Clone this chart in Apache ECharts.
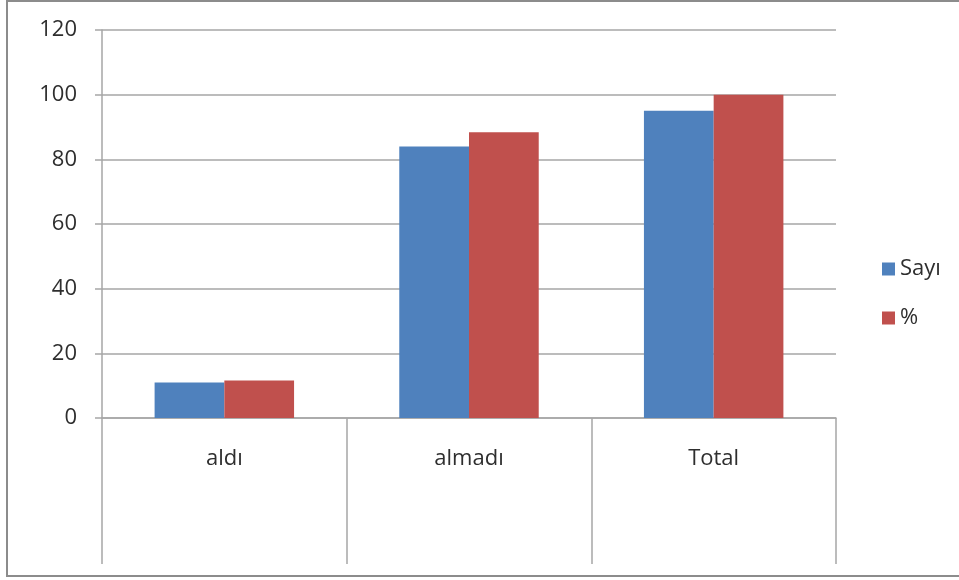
<!DOCTYPE html>
<html>
<head>
<meta charset="utf-8">
<script src="https://cdn.jsdelivr.net/npm/echarts@6/dist/echarts.min.js"></script>
<style>
  html, body { margin: 0; padding: 0; background: #fff; }
  #chart { width: 959px; height: 580px; }
</style>
</head>
<body>
<div id="chart"></div>
<script>
// Categories and series
var categories = ['aldı', 'almadı', 'Total'];
var sayiValues = [11, 84, 95];
var yuzdeValues = [11.6, 88.4, 100];
var seriesNames = ['Sayı', '%'];

var gridColor = '#a6a6a6';
var textColor = '#2e2e2e';
var fontFamily = '"Open Sans", "DejaVu Sans", sans-serif';

var chart = echarts.init(document.getElementById('chart'));
chart.setOption({
  animation: false,
  backgroundColor: '#ffffff',
  graphic: [{
    type: 'rect',
    shape: { x: 7, y: 1, width: 960, height: 575 },
    style: { fill: 'none', stroke: '#8c8c8c', lineWidth: 2 },
    silent: true
  }],
  legend: {
    orient: 'vertical',
    left: 877,
    top: 253,
    itemWidth: 13,
    itemHeight: 13,
    itemGap: 27,
    icon: 'rect',
    textStyle: { fontSize: 22, lineHeight: 22, color: textColor, fontFamily: fontFamily },
    data: seriesNames
  },
  grid: { left: 102, right: 123, top: 30, bottom: 162 },
  xAxis: {
    type: 'category',
    data: categories,
    axisLine: { lineStyle: { color: gridColor, width: 1.5 } },
    axisTick: { show: true, length: 146, interval: 0, lineStyle: { color: gridColor, width: 1.5 } },
    axisLabel: { margin: 30, fontSize: 22, color: textColor, fontFamily: fontFamily }
  },
  yAxis: {
    type: 'value',
    min: 0,
    max: 120,
    interval: 20,
    axisLine: { show: true, lineStyle: { color: gridColor, width: 1.5 } },
    axisTick: { show: true, length: 7, lineStyle: { color: gridColor, width: 1.5 } },
    splitLine: { lineStyle: { color: gridColor, width: 1.5 } },
    axisLabel: { margin: 25, fontSize: 22, color: textColor, fontFamily: fontFamily }
  },
  series: [
    {
      name: seriesNames[0],
      type: 'bar',
      data: sayiValues,
      barGap: '0%',
      barCategoryGap: '43%',
      itemStyle: { color: '#4f81bd' }
    },
    {
      name: seriesNames[1],
      type: 'bar',
      data: yuzdeValues,
      itemStyle: { color: '#c0504d' }
    }
  ]
});
</script>
</body>
</html>
